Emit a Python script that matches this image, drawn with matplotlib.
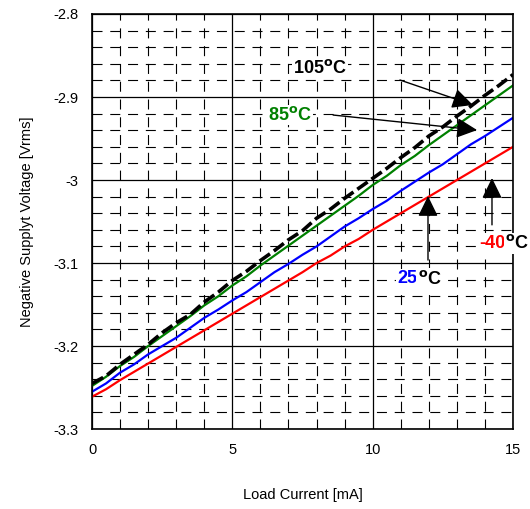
import numpy as np
import matplotlib
matplotlib.use("Agg")
import matplotlib.pyplot as plt
from matplotlib.ticker import MultipleLocator

plt.rcParams['font.family'] = ['Liberation Sans', 'DejaVu Sans']

# load current [mA], 0.5 mA steps
current = np.arange(0, 15.01, 0.5)

v_105 = [-3.245, -3.236, -3.222, -3.210, -3.198, -3.184, -3.172, -3.162, -3.147, -3.135,
         -3.121, -3.110, -3.097, -3.085, -3.072, -3.061, -3.046, -3.035, -3.022, -3.010,
         -2.998, -2.986, -2.973, -2.961, -2.947, -2.936, -2.923, -2.911, -2.898, -2.886, -2.873]
v_85 = [-3.248, -3.237, -3.224, -3.213, -3.200, -3.188, -3.176, -3.164, -3.151, -3.140,
        -3.127, -3.116, -3.103, -3.091, -3.079, -3.067, -3.055, -3.043, -3.031, -3.019,
        -3.006, -2.995, -2.982, -2.971, -2.958, -2.946, -2.934, -2.922, -2.910, -2.898, -2.886]
v_25 = [-3.255, -3.245, -3.232, -3.222, -3.210, -3.200, -3.190, -3.178, -3.166, -3.156,
        -3.145, -3.135, -3.123, -3.111, -3.101, -3.090, -3.080, -3.068, -3.056, -3.046,
        -3.035, -3.025, -3.013, -3.002, -2.991, -2.981, -2.969, -2.957, -2.947, -2.936, -2.925]
v_m40 = [-3.261, -3.252, -3.241, -3.231, -3.221, -3.211, -3.201, -3.191, -3.181, -3.171,
         -3.161, -3.151, -3.141, -3.131, -3.121, -3.111, -3.100, -3.091, -3.080, -3.071,
         -3.060, -3.050, -3.040, -3.030, -3.020, -3.010, -3.000, -2.990, -2.980, -2.970, -2.960]

fig = plt.figure(figsize=(5.30, 5.09), dpi=100)
ax = fig.add_axes([0.1736, 0.157, 0.7944, 0.8155])

ax.set_xlim(0, 15)
ax.set_ylim(-3.3, -2.8)
ax.xaxis.set_major_locator(MultipleLocator(5))
ax.xaxis.set_minor_locator(MultipleLocator(1))
ax.yaxis.set_major_locator(MultipleLocator(0.1))
ax.yaxis.set_minor_locator(MultipleLocator(0.02))
ax.grid(which='major', color='black', linewidth=0.9, linestyle='-')
ax.grid(which='minor', color='black', linewidth=0.8, linestyle=(0, (9, 7)))
ax.set_axisbelow(True)
ax.tick_params(which='both', length=0, labelsize=10.5, pad=10)
ax.set_yticks([-3.3, -3.2, -3.1, -3.0, -2.9, -2.8])
ax.set_yticklabels(['-3.3', '-3.2', '-3.1', '-3', '-2.9', '-2.8'])
for s in ax.spines.values():
    s.set_linewidth(1.2)

ax.plot(current, v_m40, color='#ff0000', lw=1.6)
ax.plot(current, v_25, color='#0000ff', lw=1.6)
ax.plot(current, v_85, color='#008000', lw=1.6)
ax.plot(current, v_105, color='black', lw=2.6, linestyle=(0, (3.5, 1.3)))

ax.set_xlabel('Load Current [mA]', fontsize=10.5, labelpad=22)
ax.set_ylabel('Negative Supplyt Voltage [Vrms]', fontsize=10.5, labelpad=14)

deg = r'$^{\mathbf{o}}$C'
box = dict(facecolor='white', edgecolor='none', pad=1)
tkw = dict(fontsize=13, fontweight='bold', va='center', bbox=box)
ax.text(8.12, -2.865, '105' + deg, color='black', ha='center', **tkw)
ax.text(7.05, -2.9217, '85' + deg, color='#008000', ha='center', **tkw)
ax.text(11.6, -3.119, '25', color='#0000ff', ha='right', **tkw)
ax.text(11.6, -3.119, deg, color='black', ha='left', **tkw)
ax.text(14.72, -3.076, '-40', color='#ff0000', ha='right', **tkw)
ax.text(14.72, -3.076, deg, color='black', ha='left', clip_on=False, **tkw)

ap = dict(arrowstyle='-|>,head_length=0.45,head_width=0.22', color='black', lw=1,
          mutation_scale=28, shrinkA=0, shrinkB=0)
ax.annotate('', xy=(13.57, -2.9096), xytext=(10.97, -2.8795), arrowprops=ap)
ax.annotate('', xy=(13.72, -2.9398), xytext=(8.59, -2.9217), arrowprops=ap)
ax.annotate('', xy=(11.97, -3.0193), xytext=(11.97, -3.0964), arrowprops=ap)
ax.annotate('', xy=(14.25, -2.9976), xytext=(14.25, -3.054), arrowprops=ap)

fig.savefig('out.png', dpi=100)
